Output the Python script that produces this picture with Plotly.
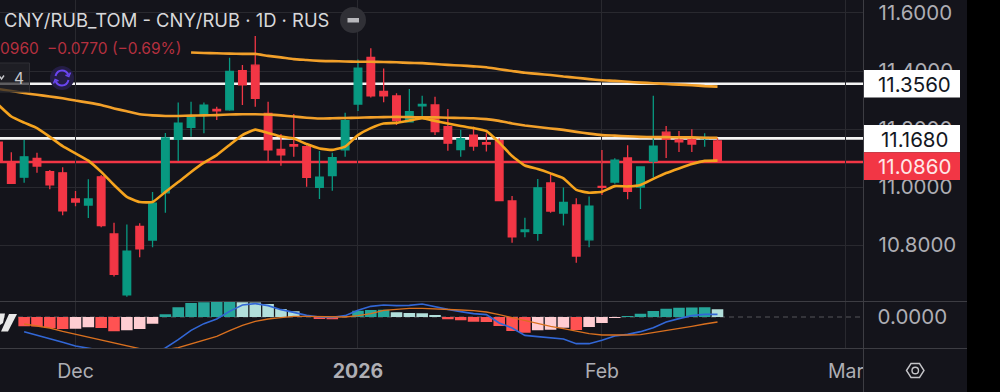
import plotly.graph_objects as go

# ---------- data ----------
bar_index = list(range(-1, 56))
open_ = [11.155, 11.087, 11.034, 11.099, 11.053, 11.049, 10.959, 10.938, 11.035, 10.838, 10.628, 10.864,
         10.817, 10.980, 11.164, 11.206, 11.249, 11.268, 11.266, 11.401, 11.420, 11.254, 11.130, 11.146,
         11.139, 10.999, 11.039, 11.128, 11.286, 11.447, 11.330, 11.314, 11.225, 11.280, 11.283, 11.208,
         11.129, 11.179, 11.153, 11.160, 10.952, 10.846, 10.840, 11.014, 10.910, 10.938, 10.818, 11.002,
         11.017, 11.100, 11.000, 11.089, 11.189, 11.162, 11.164, 11.167, 11.159]
high = [11.169, 11.120, 11.162, 11.118, 11.059, 11.068, 10.986, 11.027, 11.041, 10.877, 10.871, 10.875,
        10.983, 11.186, 11.291, 11.294, 11.291, 11.277, 11.446, 11.421, 11.521, 11.294, 11.183, 11.252,
        11.144, 11.124, 11.118, 11.256, 11.440, 11.478, 11.409, 11.323, 11.338, 11.315, 11.311, 11.269,
        11.197, 11.208, 11.185, 11.168, 10.969, 10.894, 11.028, 11.047, 10.998, 10.961, 10.967, 11.128,
        11.099, 11.144, 11.070, 11.315, 11.210, 11.193, 11.199, 11.185, 11.169]
low = [11.066, 11.012, 11.015, 11.049, 10.992, 10.903, 10.934, 10.893, 10.861, 10.691, 10.622, 10.758,
       10.792, 10.911, 11.090, 11.173, 11.185, 11.231, 11.263, 11.283, 11.277, 11.087, 11.073, 11.104,
       11.001, 10.959, 10.987, 11.104, 11.262, 11.309, 11.292, 11.214, 11.222, 11.240, 11.179, 11.125,
       11.104, 11.125, 11.122, 10.953, 10.808, 10.827, 10.815, 10.911, 10.867, 10.739, 10.792, 10.972,
       11.011, 10.958, 10.924, 11.033, 11.100, 11.121, 11.121, 11.139, 11.084]
close = [11.086, 11.013, 11.104, 11.072, 11.007, 10.918, 10.948, 10.959, 10.867, 10.699, 10.779, 10.787,
         10.944, 11.169, 11.220, 11.240, 11.282, 11.263, 11.399, 11.352, 11.306, 11.128, 11.111, 11.141,
         11.033, 11.034, 11.101, 11.229, 11.410, 11.314, 11.314, 11.229, 11.260, 11.285, 11.191, 11.151,
         11.167, 11.141, 11.148, 10.953, 10.828, 10.852, 10.997, 10.917, 10.947, 10.762, 10.934, 10.999,
         11.093, 10.985, 11.069, 11.141, 11.164, 11.156, 11.148, 11.171, 11.090]

fast_ma = [11.283, 11.243, 11.222, 11.203, 11.173, 11.141, 11.116, 11.091, 11.052, 11.007, 10.966, 10.948,
           10.948, 10.983, 11.017, 11.052, 11.084, 11.110, 11.145, 11.179, 11.198, 11.186, 11.174, 11.167,
           11.148, 11.133, 11.128, 11.139, 11.179, 11.203, 11.219, 11.221, 11.229, 11.237, 11.228, 11.219,
           11.210, 11.203, 11.193, 11.153, 11.107, 11.074, 11.062, 11.047, 11.030, 10.990, 10.980, 10.984,
           11.003, 11.002, 11.007, 11.028, 11.048, 11.064, 11.079, 11.090, 11.091]
mid_ma = [11.338, 11.331, 11.324, 11.318, 11.312, 11.306, 11.298, 11.291, 11.283, 11.271, 11.261, 11.251,
          11.247, 11.245, 11.245, 11.246, 11.247, 11.248, 11.250, 11.251, 11.251, 11.250, 11.247, 11.243,
          11.239, 11.236, 11.237, 11.238, 11.239, 11.240, 11.241, 11.242, 11.241, 11.240, 11.240, 11.239,
          11.238, 11.237, 11.234, 11.228, 11.219, 11.212, 11.207, 11.202, 11.197, 11.190, 11.184, 11.179,
          11.177, 11.175, 11.173, 11.172, 11.172, 11.171, 11.171, 11.170, 11.170]
slow_index = list(range(14, 56))
slow_ma = [11.464, 11.462, 11.461, 11.460, 11.459, 11.459, 11.452, 11.447, 11.441, 11.438, 11.435, 11.434,
           11.433, 11.432, 11.432, 11.431, 11.430, 11.428, 11.427, 11.424, 11.421, 11.419, 11.416, 11.413,
           11.406, 11.400, 11.394, 11.390, 11.386, 11.381, 11.377, 11.372, 11.368, 11.366, 11.363, 11.360,
           11.358, 11.355, 11.353, 11.351, 11.348, 11.346]

macd_index = list(range(1, 56))
macd_hist = [-0.0187, -0.0190, -0.0220, -0.0240, -0.0235, -0.0207, -0.0220, -0.0287, -0.0267, -0.0240, -0.0133,
             0.0053, 0.0193, 0.0280, 0.0295, 0.0300, 0.0303, 0.0293, 0.0290, 0.0260, 0.0160, 0.0113, 0.0010,
             -0.0040, -0.0045, 0.0010, 0.0127, 0.0140, 0.0147, 0.0093, 0.0080, 0.0075, 0.0033, -0.0047, -0.0067,
             -0.0093, -0.0100, -0.0180, -0.0280, -0.0313, -0.0267, -0.0253, -0.0213, -0.0260, -0.0200, -0.0120,
             -0.0020, 0.0013, 0.0067, 0.0120, 0.0167, 0.0187, 0.0188, 0.0193, 0.0153]
macd_line = [-0.0293, -0.0360, -0.0427, -0.0507, -0.0580, -0.0613, -0.0667, -0.0733, -0.0767, -0.0750, -0.0720,
             -0.0620, -0.0453, -0.0267, -0.0133, -0.0040, 0.0113, 0.0240, 0.0267, 0.0227, 0.0147, 0.0093, 0.0033,
             0.0000, -0.0007, 0.0027, 0.0133, 0.0213, 0.0240, 0.0227, 0.0233, 0.0260, 0.0200, 0.0153, 0.0107,
             0.0067, 0.0047, -0.0120, -0.0220, -0.0367, -0.0393, -0.0420, -0.0440, -0.0533, -0.0533, -0.0467,
             -0.0380, -0.0347, -0.0293, -0.0213, -0.0100, -0.0033, 0.0027, 0.0053, 0.0053]
signal_line = [-0.0140, -0.0173, -0.0220, -0.0287, -0.0347, -0.0407, -0.0453, -0.0520, -0.0573, -0.0633, -0.0667,
               -0.0653, -0.0613, -0.0540, -0.0467, -0.0387, -0.0273, -0.0167, -0.0087, -0.0040, -0.0013, 0.0013,
               0.0013, 0.0013, 0.0000, 0.0000, 0.0027, 0.0067, 0.0133, 0.0160, 0.0173, 0.0173, 0.0167, 0.0153,
               0.0140, 0.0127, 0.0100, 0.0047, -0.0013, -0.0080, -0.0133, -0.0187, -0.0233, -0.0287, -0.0333,
               -0.0360, -0.0367, -0.0360, -0.0353, -0.0313, -0.0280, -0.0233, -0.0187, -0.0140, -0.0100]

time_tick_index = [5, 27, 46, 65]
time_tick_labels = ["Dec", "<b>2026</b>", "Feb", "Mar"]
price_ticks = [10.8, 11.0, 11.2, 11.4, 11.6]
white_levels = [11.356, 11.168]
red_level = 11.086

# ---------- styling ----------
W, H = 1000, 392
BG = "#14141b"
GRID = "#29292f"
SEP = "#3d3d43"
UP = "#089981"
DOWN = "#f23645"
FONT = "Inter"
AXTXT = "#aeaeb4"


def px(x):
    return x / W


def py(y):
    return 1 - y / H


def hist_colors(values):
    out = []
    prev = 0
    for v in values:
        if v >= 0:
            out.append("#26a69a" if v > prev else "#b2dfdb")
        else:
            out.append("#ff5252" if v < prev else "#ffcdd2")
        prev = v
    return out


fig = go.Figure()
fig.add_trace(go.Candlestick(
    x=bar_index, open=open_, high=high, low=low, close=close, xaxis="x", yaxis="y",
    increasing=dict(line=dict(color=UP, width=1.3), fillcolor=UP),
    decreasing=dict(line=dict(color=DOWN, width=1.3), fillcolor=DOWN),
    whiskerwidth=0, showlegend=False, hoverinfo="skip"))
for xs, ys, c in [(bar_index, mid_ma, "#f2a02a"), (slow_index, slow_ma, "#f2a02a"), (bar_index, fast_ma, "#f5a31e")]:
    fig.add_trace(go.Scatter(x=xs, y=ys, mode="lines", line=dict(color=c, width=2.6, shape="spline", smoothing=0.4),
                             xaxis="x", yaxis="y", showlegend=False, hoverinfo="skip"))
fig.add_trace(go.Bar(x=macd_index, y=macd_hist, marker=dict(color=hist_colors(macd_hist), line=dict(width=0)),
                     width=0.9, xaxis="x2", yaxis="y2", showlegend=False, hoverinfo="skip"))
fig.add_trace(go.Scatter(x=macd_index, y=macd_line, mode="lines", line=dict(color="#3267d6", width=1.6),
                         xaxis="x2", yaxis="y2", showlegend=False, hoverinfo="skip"))
fig.add_trace(go.Scatter(x=macd_index, y=signal_line, mode="lines", line=dict(color="#d9701f", width=1.4),
                         xaxis="x2", yaxis="y2", showlegend=False, hoverinfo="skip"))

shapes = []
# price lines, under the candles
for lv in white_levels:
    shapes.append(dict(type="line", xref="x domain", yref="y", x0=0, x1=1, y0=lv, y1=lv,
                       line=dict(color="#f4f4f4", width=2.7), layer="below"))
shapes.append(dict(type="line", xref="x domain", yref="y", x0=0, x1=1, y0=red_level, y1=red_level,
                   line=dict(color=DOWN, width=2.4), layer="below"))
shapes.append(dict(type="line", xref="x2 domain", yref="y2", x0=0, x1=1, y0=0, y1=0,
                   line=dict(color="#55555a", width=1, dash="5px,4px"), layer="below"))


def rect(x0, y0, x1, y1, fill, line=None, layer="above"):
    return dict(type="rect", xref="paper", yref="paper", x0=px(x0), x1=px(x1), y0=py(y0), y1=py(y1),
                fillcolor=fill, line=dict(color=line or fill, width=1 if line else 0), layer=layer)


def pth(d, color, width=1.5, fill=None):
    return dict(type="path", xref="paper", yref="paper", path=d, fillcolor=fill,
                line=dict(color=color, width=width), layer="above")


def P(*pts):
    return " ".join(f"{c}{px(x):.5f},{py(y):.5f}" for c, x, y in pts)


# frame
shapes += [
    dict(type="line", xref="paper", yref="paper", x0=px(0), x1=px(967), y0=py(301.5), y1=py(301.5),
         line=dict(color=SEP, width=1), layer="above"),
    dict(type="line", xref="paper", yref="paper", x0=px(0), x1=px(967), y0=py(348.5), y1=py(348.5),
         line=dict(color=SEP, width=1), layer="above"),
    dict(type="line", xref="paper", yref="paper", x0=px(863.5), x1=px(863.5), y0=0, y1=1,
         line=dict(color=SEP, width=1), layer="above"),
    rect(967, 0, 1000, 392, "#000000"),
    # last-value tags
    rect(864, 70, 960, 97.5, "#ffffff"),
    rect(864, 125, 960, 152.3, "#ffffff"),
    rect(864, 152.3, 960, 180, DOWN),
    # "4" collapse box
    rect(-2, 63, 29.5, 92, "rgba(34,34,40,0.72)", "#2e2e34"),
    # minus pill
    dict(type="circle", xref="paper", yref="paper", x0=px(340), x1=px(366), y0=py(33), y1=py(7),
         fillcolor="#303036", line=dict(width=0), layer="above"),
    rect(347.5, 18, 359, 22.5, "#b8b8bc"),
    # sync icon halo
    dict(type="circle", xref="paper", yref="paper", x0=px(50), x1=px(74), y0=py(90), y1=py(66),
         fillcolor="#241d45", line=dict(width=0), layer="above"),
]
# chevron in the "4" box
shapes.append(pth(P(("M", -1, 75.5), ("L", 1.5, 79), ("L", 4, 75.5)), "#c8c8cc", 1.4))
# sync arrows
shapes.append(pth(f"M{px(55.5):.5f},{py(76):.5f} Q{px(57):.5f},{py(70.5):.5f} {px(62):.5f},{py(70.5):.5f} "
                  f"Q{px(66.5):.5f},{py(70.5):.5f} {px(68.5):.5f},{py(75):.5f}", "#6a45f0", 2))
shapes.append(pth(f"M{px(68.5):.5f},{py(80):.5f} Q{px(67):.5f},{py(85.5):.5f} {px(62):.5f},{py(85.5):.5f} "
                  f"Q{px(57.5):.5f},{py(85.5):.5f} {px(55.5):.5f},{py(81):.5f}", "#6a45f0", 2))
shapes.append(pth(P(("M", 65.5, 75), ("L", 68.8, 76.5), ("L", 70.5, 72.5)), "#6a45f0", 1.6))
shapes.append(pth(P(("M", 58.5, 81), ("L", 55.2, 79.5), ("L", 53.5, 83.5)), "#6a45f0", 1.6))
# watermark logo fragment
shapes.append(pth(P(("M", 0, 313.5), ("L", 5, 313.5), ("L", 3, 323), ("L", 0, 325)) + " Z", "#e8e8e8", 0, "#e8e8e8"))
shapes.append(pth(P(("M", 9, 314), ("L", 17, 314), ("L", 8, 331.5), ("L", 1, 331.5)) + " Z", "#e8e8e8", 0, "#e8e8e8"))
# settings hexagon
shapes.append(pth(P(("M", 906.5, 370.5), ("L", 911, 363.5), ("L", 919.5, 363.5), ("L", 924, 370.5),
                    ("L", 919.5, 377.5), ("L", 911, 377.5)) + " Z", "#c4c4c8", 1.4))
shapes.append(dict(type="circle", xref="paper", yref="paper", x0=px(912), x1=px(918.5), y0=py(373.8), y1=py(367.3),
                   line=dict(color="#c4c4c8", width=1.4), layer="above"))

annotations = []


def txt(x, y, s, size, color, anchor="left"):
    annotations.append(dict(xref="paper", yref="paper", x=px(x), y=py(y), text=s, showarrow=False,
                            xanchor=anchor, yanchor="middle", font=dict(family=FONT, size=size, color=color),
                            borderpad=0, borderwidth=0))


txt(4, 20.5, "CNY/RUB_TOM - CNY/RUB · 1D · RUS", 18.4, "#d8d8da")
txt(0, 48, "0960", 15.5, "#b5303f")
txt(47, 48, "−0.0770 (−0.69%)", 15.5, "#b5303f")
txt(18.5, 78, "4", 15.5, "#c8c8cc", "center")
txt(914.5, 84, f"{white_levels[0]:.4f}", 20.5, "#131722", "center")
txt(914.5, 139, f"{white_levels[1]:.4f}", 20.5, "#131722", "center")
txt(914.5, 166, f"{red_level:.4f}", 20.5, "#ffe6e8", "center")

axis_font = dict(family=FONT, size=20.5, color=AXTXT)
xr = [-0.88, 66.37]
fig.update_layout(
    width=W, height=H, margin=dict(l=0, r=0, t=0, b=0), paper_bgcolor=BG, plot_bgcolor=BG,
    boxgap=0.15, barmode="overlay", shapes=shapes, annotations=annotations, showlegend=False, dragmode=False,
    xaxis=dict(domain=[0, 0.8635], range=xr, anchor="y", tickmode="array", tickvals=time_tick_index,
               showticklabels=False, ticks="", gridcolor=GRID, gridwidth=1, showgrid=True, zeroline=False,
               rangeslider=dict(visible=False), showline=False),
    yaxis=dict(domain=[py(301.5), 1], range=[10.6052, 11.6448], side="right", anchor="x", tickmode="array",
               tickvals=price_ticks, ticktext=[f"{v:.4f}" for v in price_ticks], tickfont=axis_font,
               ticks="outside", ticklen=10, tickcolor=BG, gridcolor=GRID, gridwidth=1, zeroline=False, showline=False),
    xaxis2=dict(domain=[0, 0.8635], range=xr, anchor="y2", tickmode="array", tickvals=time_tick_index,
                ticktext=time_tick_labels, tickfont=dict(family=FONT, size=19.5, color=AXTXT), ticks="outside",
                ticklen=6, tickcolor=BG, gridcolor=GRID, gridwidth=1, showgrid=True, zeroline=False, showline=False),
    yaxis2=dict(domain=[py(348), py(302)], range=[-0.062, 0.030], side="right", anchor="x2", tickmode="array",
                tickvals=[0], ticktext=["0.0000"], tickfont=axis_font, ticks="outside", ticklen=9, tickcolor=BG,
                showgrid=False, zeroline=False, showline=False),
)

fig.write_html("out.html", config=dict(displayModeBar=False, responsive=False),
               post_script="document.body.style.margin='0';document.body.style.overflow='hidden';document.documentElement.style.background='#000';")
